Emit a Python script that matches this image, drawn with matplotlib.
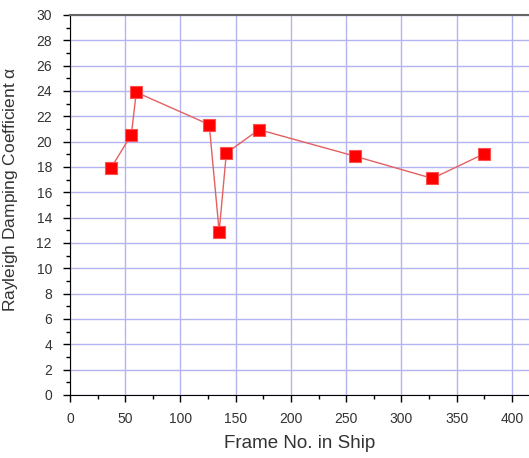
import matplotlib
matplotlib.use('Agg')
from matplotlib import pyplot as plt
from matplotlib.ticker import MultipleLocator

plt.rcParams['font.family'] = ['Liberation Sans', 'DejaVu Sans']

# 数据
frame_no = [37, 55.5, 60, 126, 135, 141.5, 171, 258, 328, 375]
alpha = [17.9, 20.55, 23.9, 21.35, 12.9, 19.1, 20.95, 18.85, 17.1, 19.05]

fig = plt.figure(figsize=(5.29, 4.58), dpi=100)
ax = fig.add_axes([70 / 529, 63 / 458, 459 / 529, 380 / 458])

ax.plot(frame_no, alpha, color='#e46060', lw=1, zorder=3)
ax.plot(frame_no, alpha, ls='none', marker='s', ms=8.5, color='#ff0000',
        mec='#ff5050', mew=0.8, zorder=4)

ax.set_xlim(0, 415.4)
ax.set_ylim(0, 30)
ax.xaxis.set_major_locator(MultipleLocator(50))
ax.xaxis.set_minor_locator(MultipleLocator(25))
ax.yaxis.set_major_locator(MultipleLocator(2))
ax.yaxis.set_minor_locator(MultipleLocator(1))
ax.grid(True, which='major', color='#b4b4f0', lw=1, zorder=0)
ax.set_axisbelow(True)

ax.tick_params(which='major', direction='out', length=5, width=1, labelsize=10,
               labelcolor='#333333')
ax.tick_params(axis='x', which='major', pad=7)
ax.tick_params(axis='y', which='major', pad=8)
ax.tick_params(which='minor', direction='out', length=3, width=1)
ax.spines['right'].set_visible(False)
ax.spines['top'].set_color('#666666')
ax.spines['top'].set_linewidth(1.5)

ax.set_xlabel('Frame No. in Ship', fontsize=13.5, color='#333333')
ax.set_ylabel('Rayleigh Damping Coefficient $\\mathregular{\\alpha}$', fontsize=12.5,
              color='#333333')
ax.xaxis.set_label_coords(0.5, -0.105)
ax.yaxis.set_label_coords(-0.108, 0.54)

fig.savefig('out.png', dpi=100)
